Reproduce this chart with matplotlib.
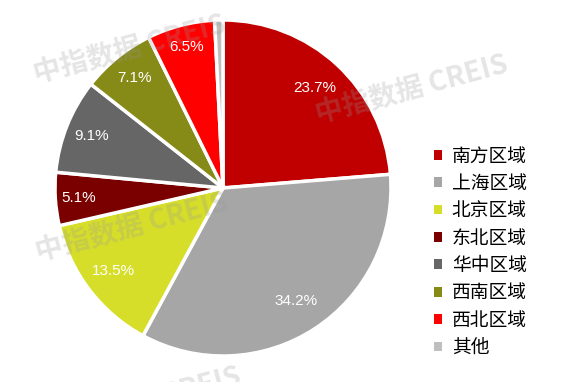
import matplotlib
matplotlib.use('Agg')
import numpy as np
import matplotlib.pyplot as plt
from matplotlib.patches import Patch

plt.rcParams['font.family'] = ['Noto Sans CJK SC', 'DejaVu Sans']

regions = ["南方区域", "上海区域", "北京区域", "东北区域", "华中区域", "西南区域", "西北区域", "其他"]
shares = [23.7, 34.2, 13.5, 5.1, 9.1, 7.1, 6.5, 0.8]
colors = ["#C00000", "#A6A6A6", "#D6DE2A", "#7A0000", "#666666", "#868A16", "#FF0000", "#BFBFBF"]
label_text = ["23.7%", "34.2%", "13.5%", "5.1%", "9.1%", "7.1%", "6.5%", ""]
# 标签离圆心的距离（半径比例）
label_dist = [0.81, 0.80, 0.82, 0.86, 0.84, 0.84, 0.87, 0.85]

fig = plt.figure(figsize=(5.73, 3.82), dpi=100)
ax = fig.add_axes([55/573, 26/382, 336/573, 336/382])

wedges, _ = ax.pie(shares, colors=colors, startangle=90, counterclock=False, radius=1,
                   wedgeprops=dict(edgecolor='white', linewidth=2.5))
for w, txt, d in zip(wedges, label_text, label_dist):
    ang = np.deg2rad((w.theta1 + w.theta2) / 2)
    ax.text(d * np.cos(ang), d * np.sin(ang), txt, color='white', fontsize=11,
            ha='center', va='center', family=['Liberation Sans', 'DejaVu Sans'])
ax.set_xlim(-1.0, 1.0)
ax.set_ylim(-1.0, 1.0)
ax.set_aspect('equal')

# 水印
for (x, y) in [(130, 50), (412, 90), (132, 228), (145, 402)]:
    fig.text(x / 573, 1 - y / 382, "中指数据 CREIS", fontsize=20, fontweight='bold', color='#999999',
             alpha=0.25, rotation=15, ha='center', va='center',
             family=['Noto Sans CJK SC', 'DejaVu Sans'])

handles = [Patch(facecolor=c, edgecolor='none') for c in colors]
fig.legend(handles, regions, loc='upper left', bbox_to_anchor=(426/573, 1 - 138/382),
           frameon=False, fontsize=13.5, handlelength=0.43, handleheight=0.43,
           handletextpad=0.55, labelspacing=0.34, borderaxespad=0)

plt.savefig("out.png", dpi=100)
plt.close()
